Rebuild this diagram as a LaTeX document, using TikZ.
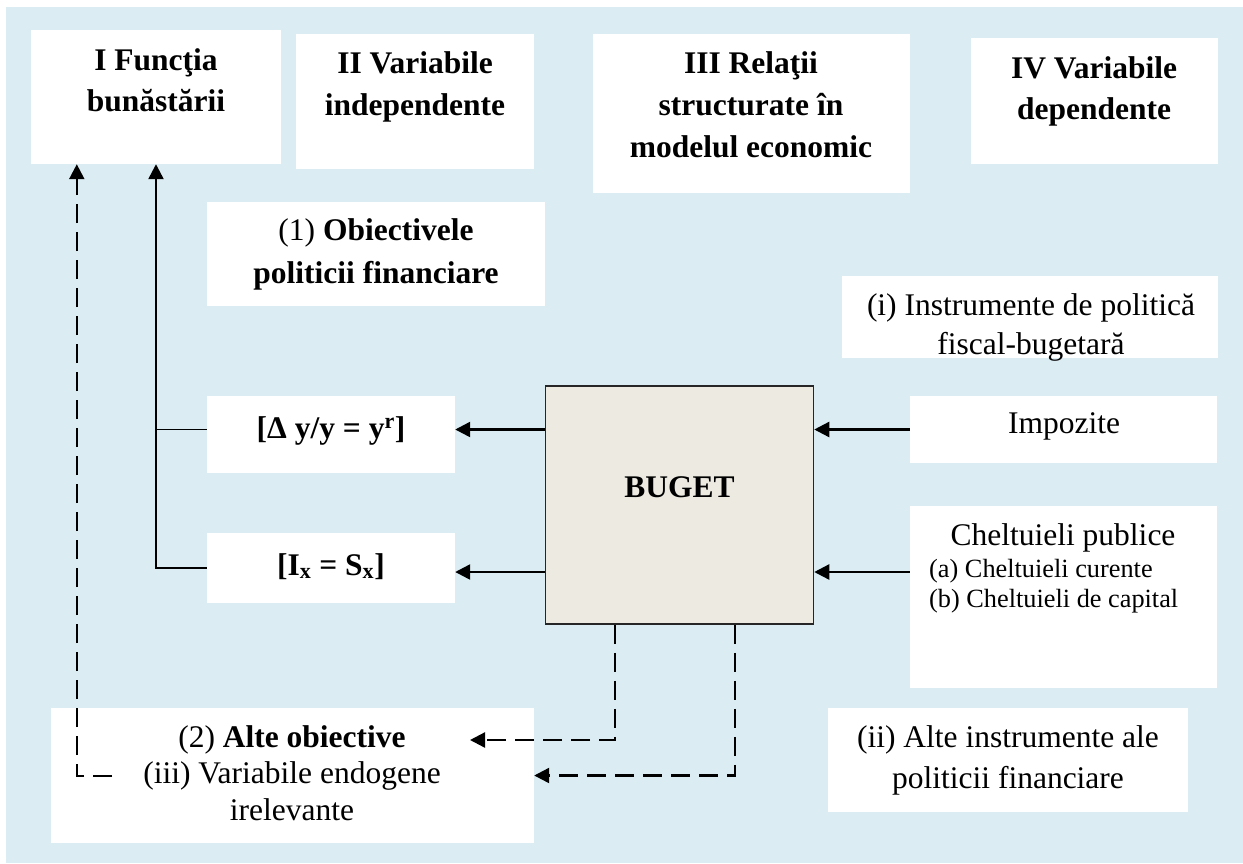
\documentclass[tikz,border=0pt]{standalone}
\usepackage{fontspec}
\setmainfont{Liberation Serif}
\usetikzlibrary{arrows.meta,calc}
\definecolor{bgblue}{HTML}{DBEDF3}
\definecolor{budgetfill}{HTML}{ECEAE1}

\begin{document}
\begin{tikzpicture}[x=1pt,y=-1pt,
  wbox/.style={rectangle, fill=white, draw=none, inner sep=0pt},
  txt/.style={anchor=base, inner sep=0pt, font=\fontsize{31.5}{38}\selectfont},
  smalltxt/.style={anchor=base west, inner sep=0pt, font=\fontsize{26.3}{31}\selectfont},
  solidarrow/.style={line width=2.4pt, -{Triangle[length=15pt,width=15pt]}},
  thinline/.style={line width=1.3pt},
  dasharrow/.style={line width=2.3pt, dash pattern=on 19pt off 9pt, -{Triangle[length=15pt,width=15pt]}}
]
\useasboundingbox (0,0) rectangle (1243,863);
\fill[bgblue] (6,7) rectangle (1243,863);

% column headers
\node[wbox, minimum width=250pt, minimum height=134pt] (b1) at (156,97) {};
\node[wbox, minimum width=238pt, minimum height=135pt] (b2) at (415,101.5) {};
\node[wbox, minimum width=317pt, minimum height=159pt] (b3) at (751.5,113.5) {};
\node[wbox, minimum width=247pt, minimum height=126pt] (b4) at (1094.5,101) {};

% remaining boxes
\node[wbox, minimum width=338pt, minimum height=104pt] (obj) at (376,254) {};
\node[wbox, minimum width=376pt, minimum height=82pt] (inst) at (1030,317) {};
\node[wbox, minimum width=248pt, minimum height=77pt] (dy) at (331,434.5) {};
\node[wbox, minimum width=248pt, minimum height=70pt] (ix) at (331,568) {};
\node[rectangle, fill=budgetfill, draw=black!85, line width=1.5pt, inner sep=0pt,
      minimum width=268pt, minimum height=238pt] (buget) at (679.5,505) {};
\node[wbox, minimum width=307pt, minimum height=67pt] (imp) at (1063.5,429.5) {};
\node[wbox, minimum width=307pt, minimum height=182pt] (chel) at (1063.5,597) {};
\node[wbox, minimum width=483pt, minimum height=135pt] (alte) at (292.5,775.5) {};
\node[wbox, minimum width=360pt, minimum height=104pt] (ii) at (1008,760) {};

% texts
\node[txt] (t1a) at (156,70) {\textbf{I Funcţia}};
\node[txt] (t1b) at (156,111) {\textbf{bunăstării}};
\node[txt] (t2a) at (415,73) {\textbf{II Variabile}};
\node[txt] (t2b) at (415,115) {\textbf{independente}};
\node[txt] (t3a) at (751,73) {\textbf{III Relaţii}};
\node[txt] (t3b) at (751,115) {\textbf{structurate în}};
\node[txt] (t3c) at (751,157) {\textbf{modelul economic}};
\node[txt] (t4a) at (1094,78) {\textbf{IV Variabile}};
\node[txt] (t4b) at (1094,119) {\textbf{dependente}};

\node[txt] (tobja) at (376,240) {(1) \textbf{Obiectivele}};
\node[txt] (tobjb) at (376,283) {\textbf{politicii financiare}};
\node[txt] (tinsta) at (1031,315) {(i) Instrumente de politică};
\node[txt] (tinstb) at (1031,354) {fiscal-bugetară};

\node[txt] (tdy) at (331,438) {\textbf{[Δ y/y = y\textsuperscript{r}]}};
\node[txt] (tix) at (331,575) {\textbf{[I\textsubscript{x} = S\textsubscript{x}]}};
\node[txt] (tbuget) at (679.5,497) {\textbf{BUGET}};
\node[txt] (timp) at (1064,433) {Impozite};
\node[txt] (tchel) at (1063,545) {Cheltuieli publice};
\node[smalltxt] (tchela) at (929,577) {(a) Cheltuieli curente};
\node[smalltxt] (tchelb) at (929,607) {(b) Cheltuieli de capital};

\node[txt] (talta) at (292,747) {(2) \textbf{Alte obiective}};
\node[txt] (taltb) at (292,783) {(iii) Variabile endogene};
\node[txt] (taltc) at (292,820) {irelevante};
\node[txt] (tiia) at (1008,747) {(ii) Alte instrumente ale};
\node[txt] (tiib) at (1008,788) {politicii financiare};

% connectors
\coordinate (row2) at (1000,572);
\coordinate (otherTip) at (470,740);
\coordinate (irrStart) at (112,776);

\draw[solidarrow] (ix.west) -| (b1.south);
\draw[thinline] (imp.west -| dy.west) -- (imp.west -| b1.south);
\draw[dasharrow] (irrStart) -| ($(b1.south west)+(46,0)$);

\draw[solidarrow] (imp.west -| buget.west) -- (imp.west -| dy.east);
\draw[solidarrow] (row2 -| buget.west) -- (row2 -| ix.east);
\draw[solidarrow] (imp.west) -- (imp.west -| buget.east);
\draw[solidarrow] (row2 -| chel.west) -- (row2 -| buget.east);

\draw[dasharrow] ($(buget.south west)!0.26!(buget.south east)$) |- (otherTip);
\draw[dasharrow] ($(buget.south west)!0.706!(buget.south east)$) |- (alte.east);
\end{tikzpicture}
\end{document}
